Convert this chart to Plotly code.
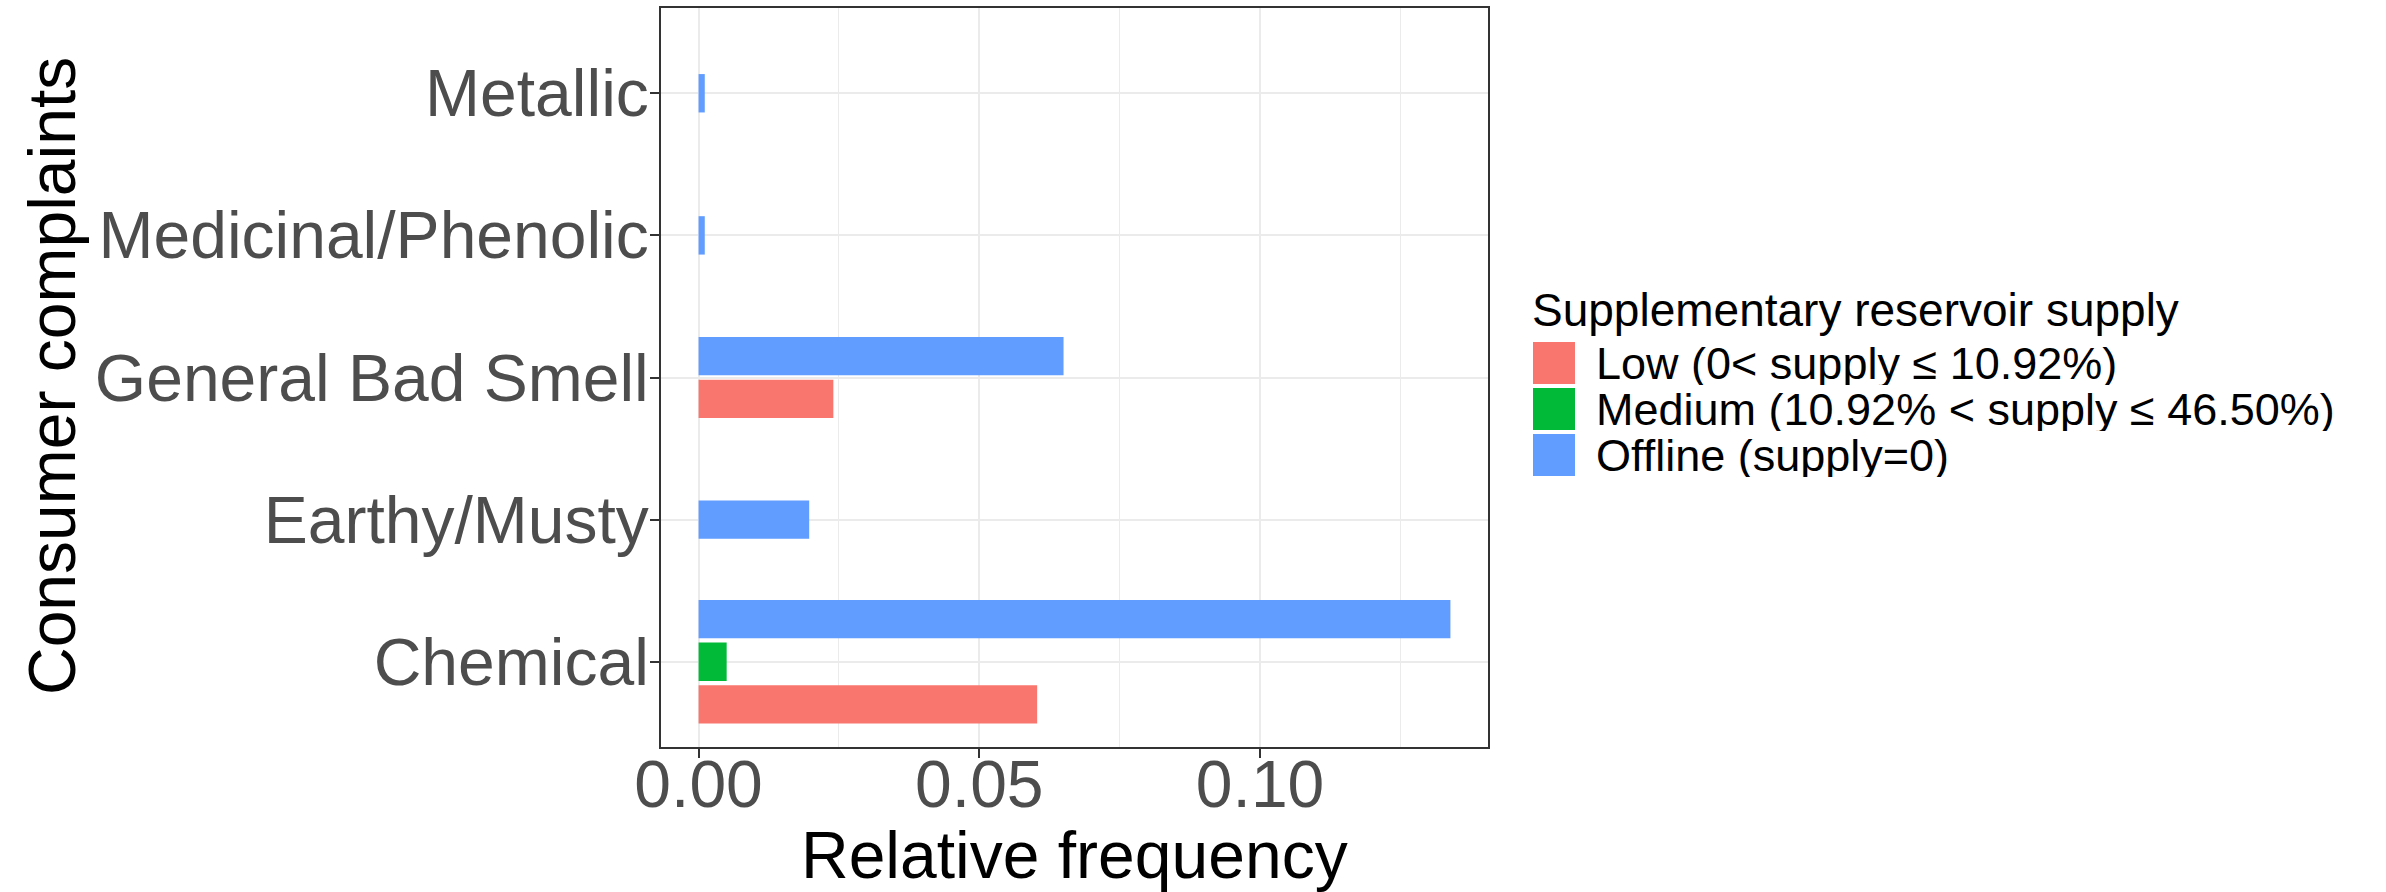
import plotly.graph_objects as go

# ---------------- data ----------------
categories = ["Chemical", "Earthy/Musty", "General Bad Smell", "Medicinal/Phenolic", "Metallic"]
series_names = [
    "Low (0< supply ≤ 10.92%)",
    "Medium (10.92% < supply ≤ 46.50%)",
    "Offline (supply=0)",
]
low = [0.0603, None, 0.0240, None, None]
medium = [0.0050, None, None, None, None]
offline = [0.1339, 0.0197, 0.0650, 0.0011, 0.0011]
series_colors = ["#F8766D", "#00BA38", "#619CFF"]
x_ticks = [0.00, 0.05, 0.10]
x_tick_labels = ["0.00", "0.05", "0.10"]
legend_title = "Supplementary reservoir supply"
x_title = "Relative frequency"
y_title = "Consumer complaints"

series_values = [low, medium, offline]

# ---------------- layout constants ----------------
W, H = 2386, 892
PL, PR, PT, PB = 661, 1488, 8, 747   # plot panel in pixels
FONT = "Liberation Sans, Arial, sans-serif"


def px_to_paper_x(px):
    return (px - PL) / (PR - PL)


def px_to_paper_y(py):
    return 1 - (py - PT) / (PB - PT)


# ggplot2 dodge2 (preserve single, padding 0.1)
present = [[s for s in range(len(series_values)) if series_values[s][i] is not None]
           for i in range(len(categories))]
max_n = max(len(p) for p in present)
slot = 0.9 / max_n
bar_w = slot * 0.9

fig = go.Figure()
for s, (name, vals, color) in enumerate(zip(series_names, series_values, series_colors)):
    ys, xs = [], []
    for i in range(len(categories)):
        if s in present[i]:
            k = present[i].index(s)
            n = len(present[i])
            ys.append(i + 1 + (k - (n - 1) / 2) * slot)
            xs.append(vals[i])
    fig.add_trace(go.Bar(
        x=xs, y=ys, orientation="h", width=bar_w, name=name,
        marker=dict(color=color, line=dict(width=0)),
        showlegend=False,
    ))

all_vals = [v for vals in series_values for v in vals if v is not None]
xmax = max(all_vals)
x_range = [-0.05 * xmax, 1.05 * xmax]

fig.update_layout(
    width=W, height=H,
    margin=dict(l=PL, r=W - PR, t=PT, b=H - PB, pad=0, autoexpand=False),
    paper_bgcolor="white", plot_bgcolor="white",
    barmode="overlay",
    font=dict(family=FONT, size=66, color="#4D4D4D"),
    xaxis=dict(
        automargin=False,
        range=x_range, tickvals=x_ticks, ticktext=x_tick_labels,
        showgrid=True, gridcolor="#EBEBEB", gridwidth=2,
        minor=dict(tickvals=[0.025, 0.075, 0.125], showgrid=True,
                   gridcolor="#EBEBEB", gridwidth=1, ticks=""),
        zeroline=False,
        showline=True, mirror=True, linecolor="#333333", linewidth=2,
        ticks="outside", ticklen=9, tickwidth=2, tickcolor="#333333",
        ticklabelstandoff=-30,
        tickfont=dict(size=66, color="#4D4D4D"),
    ),
    yaxis=dict(
        automargin=False,
        range=[0.4, len(categories) + 0.6],
        tickvals=list(range(1, len(categories) + 1)), ticktext=categories,
        showgrid=True, gridcolor="#EBEBEB", gridwidth=2,
        zeroline=False,
        showline=True, mirror=True, linecolor="#333333", linewidth=2,
        ticks="outside", ticklen=9, tickwidth=2, tickcolor="#333333",
        ticklabelstandoff=-12,
        tickfont=dict(size=66, color="#4D4D4D"),
    ),
)

# ---------------- axis titles ----------------
fig.add_annotation(
    x=0.5, y=px_to_paper_y(855), xref="paper", yref="paper",
    text=x_title, showarrow=False, xanchor="center", yanchor="middle",
    font=dict(size=66, color="black", family=FONT),
)
fig.add_annotation(
    x=px_to_paper_x(52), y=px_to_paper_y(376), xref="paper", yref="paper",
    text=y_title, showarrow=False, xanchor="center", yanchor="middle",
    textangle=-90, font=dict(size=66, color="black", family=FONT),
)

# ---------------- manual legend (ggplot-style large keys) ----------------
key_left, key_size, key_step = 1533, 42, 46
key_top0 = 342
fig.add_annotation(
    x=px_to_paper_x(key_left - 3), y=px_to_paper_y(310), xref="paper", yref="paper",
    text=legend_title, showarrow=False, xanchor="left", yanchor="middle",
    font=dict(size=46, color="black", family=FONT),
)
for s, (name, color) in enumerate(zip(series_names, series_colors)):
    top = key_top0 + s * key_step
    fig.add_shape(
        type="rect", xref="paper", yref="paper",
        x0=px_to_paper_x(key_left), x1=px_to_paper_x(key_left + key_size),
        y0=px_to_paper_y(top), y1=px_to_paper_y(top + key_size),
        fillcolor=color, line=dict(width=0),
    )
    fig.add_annotation(
        x=px_to_paper_x(1594), y=px_to_paper_y(top + key_size / 2),
        xref="paper", yref="paper", text=name, showarrow=False,
        xanchor="left", yanchor="middle", height=key_step - 2,
        font=dict(size=45, color="black", family=FONT),
    )

fig.write_html("out.html")
